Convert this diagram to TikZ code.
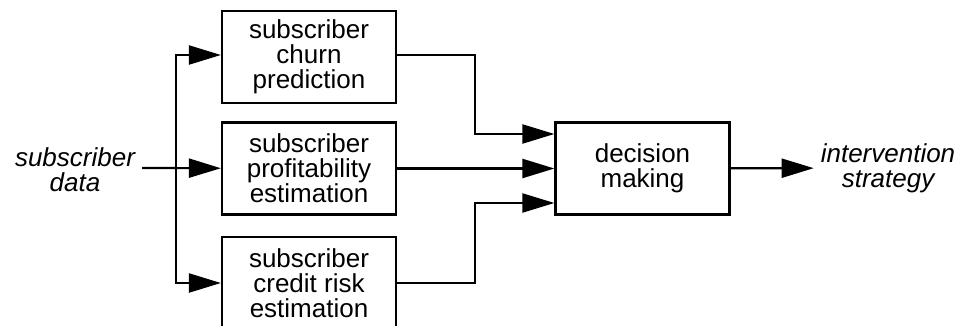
\documentclass[tikz,border=0pt]{standalone}
\usepackage{fontspec}
\setmainfont{Liberation Sans}
\usetikzlibrary{arrows.meta}

\begin{document}
\begin{tikzpicture}[x=0.5pt, y=-0.5pt, line width=1.1pt,
    every node/.style={font=\fontsize{13}{12.6}\selectfont, align=center},
    block/.style={draw, rectangle, minimum width=87pt, minimum height=46pt, inner sep=2pt},
    label/.style={font=\fontsize{13}{12.6}\selectfont\itshape, inner sep=3pt},
    arr/.style={-{Triangle[length=16pt, width=9.5pt]}}]
    \useasboundingbox (0,0) rectangle (957,326);

    % blocks
    \node[block] (churn) at (309,57) {subscriber\\churn\\prediction};
    \node[block] (profit) at (309,168.5) {subscriber\\profitability\\estimation};
    \node[block] (credit) at (309,283) {subscriber\\credit risk\\estimation};
    \node[block] (dm) at (642.5,168.5) {decision\\making};

    % labels
    \node[label] (data) at (75,170) {subscriber\\data};
    \node[label] (strat) at (888,168) {intervention\\strategy};

    % bends
    \coordinate (split) at (176,168);
    \coordinate (b1) at (475,134);
    \coordinate (b3) at (475,203);

    % connectors
    \draw[arr] (data.east |- split) -- (profit);
    \draw[arr] (split) |- (churn.west |- 0,55);
    \draw[arr] (split) |- (credit.west |- 0,283);

    \draw[arr] (churn.east |- 0,55) -| (b1) -- (dm.west |- b1);
    \draw[arr] (profit) -- (dm);
    \draw[arr] (credit.east |- 0,283) -| (b3) -- (dm.west |- b3);

    \draw[arr] (dm) -- (strat);
\end{tikzpicture}
\end{document}
